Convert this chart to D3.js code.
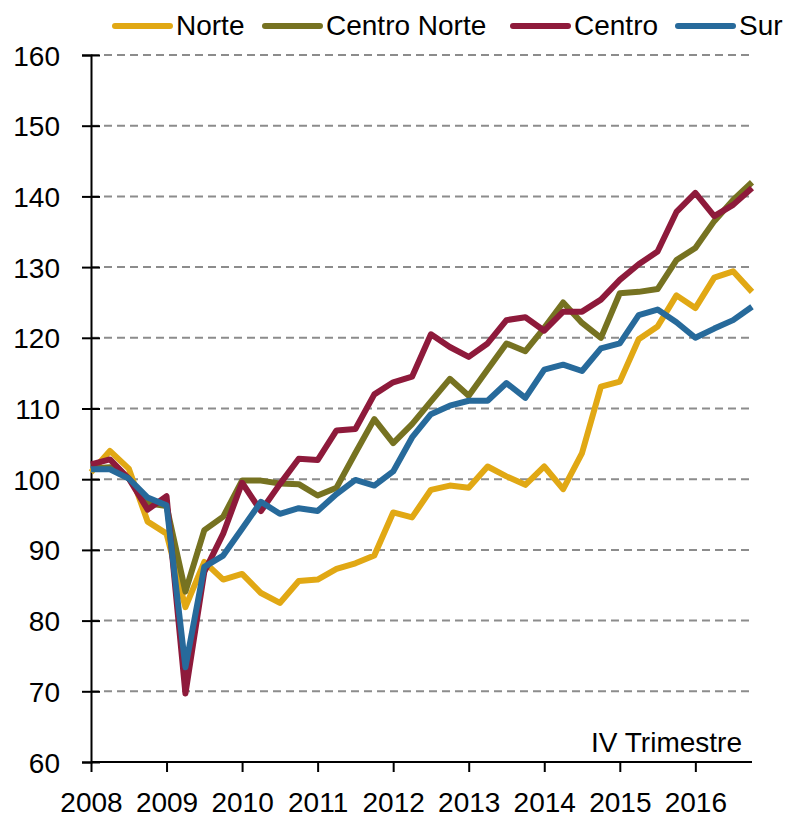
<!DOCTYPE html>
<html>
<head>
<meta charset="utf-8">
<script src="https://cdn.jsdelivr.net/npm/d3@7"></script>
<style>
  body { margin: 0; background: #fff; }
  text { font-family: "Liberation Sans", Arial, sans-serif; fill: #000; }
</style>
</head>
<body>
<div id="chart"></div>
<script>
// years on the axis, four quarters each
var years = ["2008", "2009", "2010", "2011", "2012", "2013", "2014", "2015", "2016"];
var quarters = ["I", "II", "III", "IV"];
var periods = [];
years.forEach(function (yr) {
  quarters.forEach(function (q) { periods.push(yr + "-" + q); });
});

var yTicks = [60, 70, 80, 90, 100, 110, 120, 130, 140, 150, 160];

var seriesNames = ["Norte", "Centro Norte", "Centro", "Sur"];
var seriesColors = ["#e1a814", "#767221", "#8e1a3b", "#276a9b"];

var norte = [101.0, 104.0, 101.5, 94.0, 92.3, 81.9, 88.3, 85.8, 86.6, 83.9, 82.5, 85.6,
  85.8, 87.3, 88.1, 89.2, 95.3, 94.6, 98.5, 99.1, 98.8, 101.8, 100.4, 99.2,
  101.8, 98.6, 103.7, 113.1, 113.8, 119.8, 121.6, 126.0, 124.2, 128.5, 129.4, 126.5];
var centroNorte = [101.5, 101.7, 100.1, 96.6, 96.2, 84.1, 92.8, 94.7, 99.8, 99.8, 99.4, 99.3,
  97.7, 98.8, 103.7, 108.5, 105.1, 107.8, 111.0, 114.2, 111.8, 115.5, 119.2, 118.1,
  121.4, 125.0, 122.1, 120.0, 126.3, 126.5, 126.9, 131.0, 132.7, 136.5, 139.5, 142.0];
var centro = [102.1, 102.8, 100.1, 95.7, 97.6, 69.7, 86.9, 92.3, 99.5, 95.5, 99.3, 102.9,
  102.7, 106.9, 107.1, 112.0, 113.7, 114.5, 120.5, 118.7, 117.3, 119.2, 122.5, 122.9,
  121.0, 123.7, 123.7, 125.4, 128.2, 130.4, 132.2, 137.8, 140.5, 137.2, 138.8, 141.2];
var sur = [101.4, 101.4, 100.1, 97.4, 96.3, 73.4, 87.6, 89.2, 93.0, 96.8, 95.1, 95.9,
  95.5, 97.9, 99.9, 99.1, 101.1, 105.9, 109.2, 110.4, 111.1, 111.1, 113.6, 111.5,
  115.5, 116.2, 115.3, 118.5, 119.2, 123.2, 124.0, 122.2, 120.0, 121.3, 122.5, 124.4];

var allSeries = [norte, centroNorte, centro, sur];
var note = "IV Trimestre";

var W = 792, H = 818;
var plotLeft = 91, plotRight = 752, plotTop = 55, plotBottom = 762;

var svg = d3.select("#chart").append("svg")
  .attr("width", W)
  .attr("height", H);

var x = d3.scalePoint().domain(periods).range([plotLeft, plotRight]);
var y = d3.scaleLinear().domain([60, 160]).range([plotBottom, plotTop]);

// dashed gridlines
svg.append("g")
  .selectAll("line")
  .data(yTicks.filter(function (d) { return d > 60; }))
  .enter()
  .append("line")
  .attr("x1", plotLeft)
  .attr("x2", plotRight)
  .attr("y1", function (d) { return y(d); })
  .attr("y2", function (d) { return y(d); })
  .style("stroke", "#8c8c8c")
  .style("stroke-width", 2)
  .style("stroke-dasharray", "8,5");

// y axis, ticks cross the line
var yAxis = svg.append("g")
  .attr("transform", "translate(" + plotLeft + ",0)")
  .call(d3.axisLeft(y).tickValues(yTicks).tickSize(9).tickPadding(22));
yAxis.select(".domain").attr("stroke", "#000").attr("stroke-width", 2);
yAxis.selectAll(".tick line").attr("x1", 9).attr("stroke", "#000").attr("stroke-width", 2);
yAxis.selectAll(".tick text").style("font-size", "28px").attr("dy", "0.36em");

// x axis, ticks at the first quarter of each year
var xAxis = svg.append("g")
  .attr("transform", "translate(0," + plotBottom + ")")
  .call(d3.axisBottom(x)
    .tickValues(years.map(function (yr) { return yr + "-I"; }))
    .tickFormat(function (d) { return d.split("-")[0]; })
    .tickSize(10)
    .tickPadding(20));
xAxis.select(".domain").attr("d", "M" + plotLeft + ",0H" + plotRight)
  .attr("stroke", "#000").attr("stroke-width", 2);
xAxis.selectAll(".tick line").attr("stroke", "#000").attr("stroke-width", 2);
xAxis.selectAll(".tick text").style("font-size", "28px");

// series lines
var line = d3.line()
  .x(function (d, i) { return x(periods[i]); })
  .y(function (d) { return y(d); });

svg.append("g")
  .selectAll("path")
  .data(allSeries)
  .enter()
  .append("path")
  .attr("d", line)
  .style("fill", "none")
  .style("stroke", function (d, i) { return seriesColors[i]; })
  .style("stroke-width", 6)
  .style("stroke-linejoin", "round");

// note
svg.append("text")
  .attr("x", 742)
  .attr("y", 752)
  .attr("text-anchor", "end")
  .style("font-size", "28px")
  .text(note);

// legend
var legendX = [115, 265, 513, 678];
var legend = svg.append("g")
  .selectAll("g")
  .data(seriesNames)
  .enter()
  .append("g")
  .attr("transform", function (d, i) { return "translate(" + legendX[i] + ",26)"; });
legend.append("line")
  .attr("x1", 0)
  .attr("x2", 55)
  .style("stroke", function (d, i) { return seriesColors[i]; })
  .style("stroke-width", 6)
  .style("stroke-linecap", "round");
legend.append("text")
  .attr("x", 61)
  .attr("y", 9)
  .style("font-size", "28px")
  .text(function (d) { return d; });
</script>
</body>
</html>
